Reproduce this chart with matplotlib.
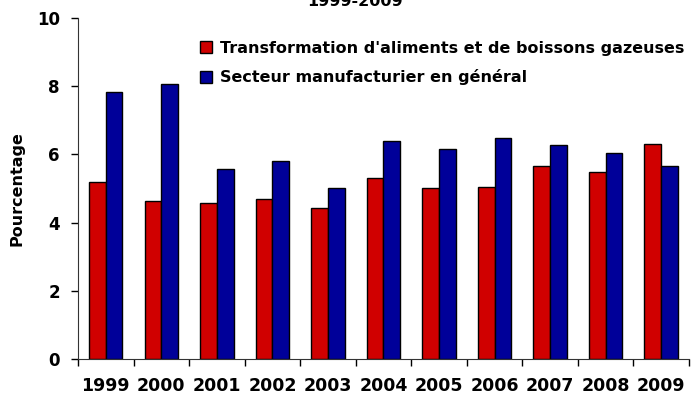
import matplotlib.pyplot as plt
import numpy as np

# données
annees = ['1999', '2000', '2001', '2002', '2003', '2004', '2005', '2006', '2007', '2008', '2009']
aliments = [5.18, 4.63, 4.57, 4.70, 4.42, 5.32, 5.03, 5.06, 5.67, 5.50, 6.30]
manufacturier = [7.84, 8.08, 5.56, 5.82, 5.03, 6.40, 6.15, 6.47, 6.27, 6.04, 5.67]

plt.rcParams['font.family'] = 'DejaVu Sans'
plt.rcParams['font.weight'] = 'bold'

fig = plt.figure(figsize=(6.91, 3.94), dpi=100)
ax = fig.add_axes([0.1129, 0.0888, 0.8841, 0.8652])

x = np.arange(len(annees))
w = 0.3
ax.bar(x - w / 2, aliments, w, color='#D00000', edgecolor='black', linewidth=1,
       label="Transformation d'aliments et de boissons gazeuses")
ax.bar(x + w / 2, manufacturier, w, color='#000099', edgecolor='black', linewidth=1,
       label='Secteur manufacturier en général')

ax.set_xlim(-0.5, len(annees) - 0.5)
ax.set_ylim(0, 10)
ax.set_yticks([0, 2, 4, 6, 8, 10])
ax.tick_params(axis='y', labelsize=12, length=5, width=1, pad=8)

# traits entre les catégories, étiquettes au centre
ax.set_xticks(x)
ax.set_xticklabels(annees, fontsize=12.5, fontweight='bold')
ax.tick_params(axis='x', which='major', length=0, pad=13)
ax.set_xticks(np.arange(-0.5, len(annees)), minor=True)
ax.tick_params(axis='x', which='minor', length=5, width=1)

for s in ['top', 'right']:
    ax.spines[s].set_visible(False)
for s in ['left', 'bottom']:
    ax.spines[s].set_color('#333333')

ax.set_ylabel('Pourcentage', fontsize=11.5, fontweight='bold', labelpad=9)

ax.legend(loc='upper left', bbox_to_anchor=(0.19, 0.952), frameon=False,
          prop={'size': 11.5, 'weight': 'bold'}, handlelength=0.75, handleheight=0.75,
          handletextpad=0.45, labelspacing=0.85, borderaxespad=0)

fig.text(355 / 691, 0.997, '1999-2009', ha='center', va='center', fontsize=11.5, fontweight='bold')

fig.savefig('out.png', dpi=100)
